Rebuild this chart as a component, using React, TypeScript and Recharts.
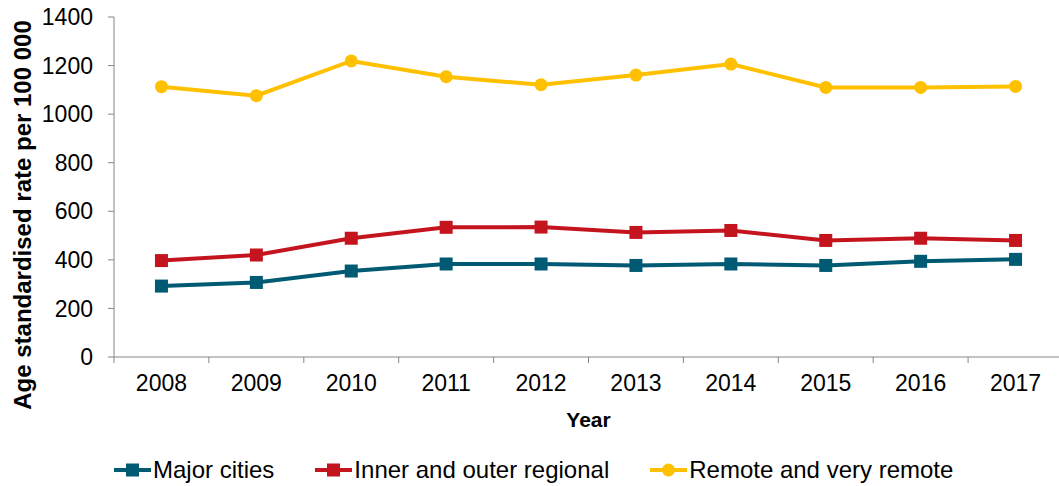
import { CartesianGrid, Line, LineChart, XAxis, YAxis } from "recharts";

const years = ["2008", "2009", "2010", "2011", "2012", "2013", "2014", "2015", "2016", "2017"];
const majorCities = [292, 307, 354, 383, 383, 377, 383, 377, 394, 402];
const innerOuterRegional = [397, 420, 489, 534, 535, 513, 521, 480, 489, 480];
const remoteVeryRemote = [1113, 1076, 1219, 1154, 1121, 1161, 1206, 1110, 1110, 1114];
const yTicks = [0, 200, 400, 600, 800, 1000, 1200, 1400];

const series = [
  { key: "major", name: "Major cities", color: "#005A73", shape: "square" },
  { key: "inner", name: "Inner and outer regional", color: "#C4151F", shape: "square" },
  { key: "remote", name: "Remote and very remote", color: "#FFC000", shape: "circle" },
];

const data = years.map((year, i) => ({
  year,
  major: majorCities[i],
  inner: innerOuterRegional[i],
  remote: remoteVeryRemote[i],
}));

const FONT = "'Liberation Sans', Arial, sans-serif";
const AXIS_COLOR = "#868686";

function SquareDot(props: any) {
  const { cx, cy, fill } = props;
  if (cx == null || cy == null) return null;
  return <rect x={cx - 6.5} y={cy - 6.5} width={13} height={13} fill={fill} />;
}

function CircleDot(props: any) {
  const { cx, cy, fill } = props;
  if (cx == null || cy == null) return null;
  return <circle cx={cx} cy={cy} r={6.5} fill={fill} />;
}

// category label plus separator tick marks between the bands
function YearTick(props: any) {
  const { x, y, payload, index, width, visibleTicksCount } = props;
  const half = width / visibleTicksCount / 2;
  const axisY = y - 18;
  return (
    <g>
      <line x1={x - half} x2={x - half} y1={axisY} y2={axisY + 6} stroke={AXIS_COLOR} />
      {index === visibleTicksCount - 1 && (
        <line x1={x + half} x2={x + half} y1={axisY} y2={axisY + 6} stroke={AXIS_COLOR} />
      )}
      <text x={x} y={y} dy="0.71em" textAnchor="middle" fill="#000" fontSize={23} fontFamily={FONT}>
        {payload.value}
      </text>
    </g>
  );
}

function LegendIcon({ color, shape }: { color: string; shape: string }) {
  return (
    <svg width={37} height={14} style={{ marginRight: 2 }}>
      <line x1={0} x2={37} y1={7} y2={7} stroke={color} strokeWidth={4} />
      {shape === "square" ? (
        <rect x={12} y={0.5} width={13} height={13} fill={color} />
      ) : (
        <circle cx={18.5} cy={7} r={6.5} fill={color} />
      )}
    </svg>
  );
}

function App() {
  return (
    <div style={{ position: "absolute", left: 0, top: 0, width: 1059, height: 486, overflow: "hidden", fontFamily: FONT }}>
      <LineChart width={1059} height={486} data={data} margin={{ top: 17, right: -4, left: 0, bottom: 0 }}>
        <CartesianGrid stroke="none" />
        <XAxis
          dataKey="year"
          scale="band"
          height={129}
          tickLine={false}
          tickSize={6}
          tickMargin={12}
          stroke={AXIS_COLOR}
          interval={0}
          tick={<YearTick />}
          label={{
            value: "Year",
            position: "insideTop",
            offset: 55,
            fill: "#000",
            fontSize: 21,
            fontWeight: "bold",
            fontFamily: FONT,
          }}
        />
        <YAxis
          width={114}
          domain={[0, 1400]}
          ticks={yTicks}
          interval={0}
          tickSize={6}
          tickMargin={15}
          stroke={AXIS_COLOR}
          tick={{ fill: "#000", fontSize: 23, fontFamily: FONT }}
          label={{
            content: () => (
              <text
                x={31}
                y={215}
                transform="rotate(-90, 31, 215)"
                textAnchor="middle"
                fill="#000"
                fontSize={24}
                fontWeight="bold"
                fontFamily={FONT}
              >
                Age standardised rate per 100 000
              </text>
            ),
          }}
        />
        {series.map((s) => (
          <Line
            key={s.key}
            dataKey={s.key}
            name={s.name}
            stroke={s.color}
            fill={s.color}
            strokeWidth={4}
            isAnimationActive={false}
            dot={s.shape === "square" ? <SquareDot /> : <CircleDot />}
            activeDot={false}
          />
        ))}
      </LineChart>
      <div
        style={{
          position: "absolute",
          left: 114,
          top: 456,
          display: "flex",
          alignItems: "center",
          fontSize: 24,
          color: "#000",
          whiteSpace: "nowrap",
        }}
      >
        {series.map((s) => (
          <div key={s.key} style={{ display: "flex", alignItems: "center", marginRight: 41 }}>
            <LegendIcon color={s.color} shape={s.shape} />
            <span>{s.name}</span>
          </div>
        ))}
      </div>
    </div>
  );
}

export default App;
